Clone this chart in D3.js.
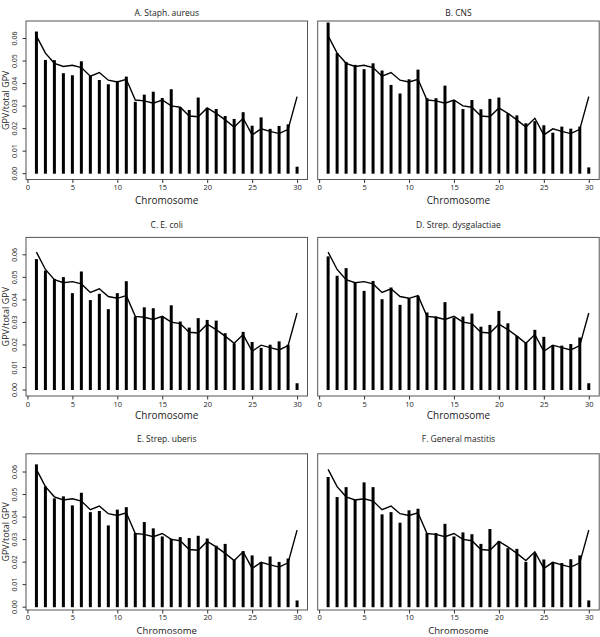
<!DOCTYPE html>
<html><head><meta charset="utf-8">
<script src="https://cdn.jsdelivr.net/npm/d3@7"></script>
<style>body{margin:0;background:#fff}svg{display:block}text{font-family:"Open Sans","Noto Sans",sans-serif;fill:#222}</style>
</head><body>
<script>
const chromosomes = d3.range(1, 31);
const lineValues = [0.0612,0.0535,0.0490,0.0476,0.0481,0.0471,0.0433,0.0449,0.0415,0.0407,0.0419,0.0327,0.0323,0.0313,0.0327,0.0301,0.0295,0.0256,0.0253,0.0292,0.0268,0.0239,0.0207,0.0246,0.0172,0.0199,0.0188,0.0178,0.0197,0.0342];
const staphAureus = [0.0631,0.0505,0.0504,0.0446,0.0437,0.0499,0.0434,0.0416,0.0397,0.0412,0.0431,0.0319,0.0351,0.0364,0.0336,0.0375,0.0295,0.0283,0.0338,0.0292,0.0287,0.0256,0.0243,0.0273,0.0213,0.0250,0.0199,0.0212,0.0219,0.0031];
const cns = [0.0671,0.0535,0.0496,0.0483,0.0464,0.0490,0.0458,0.0394,0.0356,0.0419,0.0462,0.0335,0.0335,0.0391,0.0327,0.0287,0.0327,0.0286,0.0332,0.0338,0.0268,0.0259,0.0224,0.0233,0.0215,0.0182,0.0209,0.0200,0.0209,0.0028];
const eColi = [0.0581,0.0530,0.0493,0.0501,0.0430,0.0526,0.0399,0.0427,0.0359,0.0430,0.0483,0.0326,0.0367,0.0363,0.0326,0.0376,0.0304,0.0277,0.0319,0.0311,0.0308,0.0252,0.0207,0.0258,0.0213,0.0187,0.0201,0.0216,0.0201,0.0030];
const strepDysgalactiae = [0.0593,0.0507,0.0541,0.0477,0.0440,0.0484,0.0403,0.0455,0.0378,0.0407,0.0418,0.0344,0.0326,0.0390,0.0321,0.0326,0.0339,0.0281,0.0289,0.0351,0.0296,0.0240,0.0210,0.0267,0.0236,0.0199,0.0197,0.0204,0.0233,0.0030];
const strepUberis = [0.0634,0.0536,0.0483,0.0492,0.0452,0.0508,0.0422,0.0427,0.0363,0.0433,0.0444,0.0329,0.0378,0.0350,0.0314,0.0304,0.0311,0.0307,0.0317,0.0305,0.0273,0.0281,0.0210,0.0249,0.0230,0.0200,0.0225,0.0201,0.0216,0.0030];
const generalMastitis = [0.0578,0.0489,0.0533,0.0477,0.0554,0.0533,0.0412,0.0422,0.0375,0.0430,0.0437,0.0329,0.0329,0.0370,0.0314,0.0332,0.0324,0.0281,0.0347,0.0293,0.0262,0.0259,0.0201,0.0240,0.0212,0.0201,0.0196,0.0213,0.0230,0.0030];
const titles = ["A. Staph. aureus","B. CNS","C. E. coli","D. Strep. dysgalactiae","E. Strep. uberis","F. General mastitis"];
const seriesList = [staphAureus, cns, eColi, strepDysgalactiae, strepUberis, generalMastitis];
const xTicks = [0,5,10,15,20,25,30];
const yTicks = [0.00,0.01,0.02,0.03,0.04,0.05,0.06];
const xLabel = "Chromosome";
const yLabel = "GPV/total GPV";

const W = 600, H = 637;
const colLeft = [26, 317.7];
const boxW = 281.5;
const rowTop = [21, 237.4, 453.8];
const rowZero = [173.7, 390, 607.2];
const rowBottom = [179.5, 396, 610];
const titleY = [16, 228, 442];
const xLabY = [204, 419, 633.5];
const xLabSize = [10, 10, 9.5];
const tickPad = [2, 2, 1];
const pxPerUnit = 2253;

const svg = d3.select("body").append("svg").attr("width", W).attr("height", H);

seriesList.forEach((vals, i) => {
  const col = i % 2, row = Math.floor(i / 2);
  const left = colLeft[col], top = rowTop[row];
  const boxH = rowBottom[row] - top;
  const g = svg.append("g").attr("transform", `translate(${left},${top})`);
  const x = d3.scaleLinear().domain([-0.16, 31.16]).range([0, boxW]);
  const z = rowZero[row] - top;
  const y = d3.scaleLinear().domain([0, 0.06]).range([z, z - 0.06 * pxPerUnit]);

  g.selectAll("line.bar").data(chromosomes).join("line")
    .attr("x1", d => x(d)).attr("x2", d => x(d))
    .attr("y1", y(0)).attr("y2", (d, k) => y(vals[k]))
    .attr("stroke", "#000").attr("stroke-width", 3);

  g.append("path")
    .attr("d", d3.line().x(d => x(d)).y((d, k) => y(lineValues[k]))(chromosomes))
    .attr("fill", "none").attr("stroke", "#000").attr("stroke-width", 1.4);

  g.append("rect").attr("x", 0).attr("y", 0).attr("width", boxW).attr("height", boxH)
    .attr("fill", "none").attr("stroke", "#555").attr("stroke-width", 1);

  const xa = g.append("g").attr("transform", `translate(0,${boxH})`)
    .call(d3.axisBottom(x).tickValues(xTicks).tickSize(3.5).tickPadding(tickPad[row]).tickFormat(d3.format("d")));
  xa.select(".domain").remove();
  xa.selectAll("line").attr("stroke", "#333");
  xa.selectAll("text").attr("font-size", 7.5).attr("fill", "#222").style("font-family", "'Open Sans',sans-serif");

  svg.append("text").attr("x", left + boxW / 2).attr("y", xLabY[row]).attr("text-anchor", "middle")
    .attr("font-size", xLabSize[row]).text(xLabel);

  svg.append("text").attr("x", left + boxW / 2).attr("y", titleY[row]).attr("text-anchor", "middle")
    .attr("font-size", 8.5).text(titles[i]);

  if (col === 0) {
    const ya = g.append("g").call(d3.axisLeft(y).tickValues(yTicks).tickSize(3.5).tickPadding(2).tickFormat(d3.format(".2f")));
    ya.select(".domain").remove();
    ya.selectAll("line").attr("stroke", "#333");
    ya.selectAll("text").attr("font-size", 7).attr("fill", "#222")
      .style("font-family", "'Open Sans',sans-serif")
      .attr("text-anchor", "middle").attr("x", -9).attr("dy", 0)
      .attr("transform", d => `rotate(-90,-9,${y(d)})`)
      .attr("y", d => y(d));
    ya.selectAll("g.tick").attr("transform", null);
    ya.selectAll("g.tick line").attr("y1", d => y(d)).attr("y2", d => y(d));
    svg.append("text").attr("transform", `translate(9,${top + boxH / 2}) rotate(-90)`)
      .attr("text-anchor", "middle").attr("font-size", 9).text(yLabel);
  }
});
</script>
</body></html>
